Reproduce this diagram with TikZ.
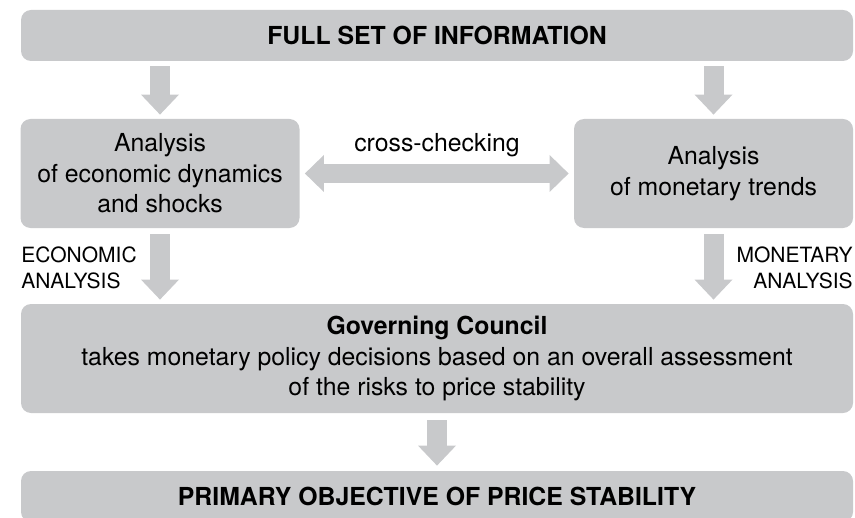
\documentclass[tikz,border=0pt]{standalone}
\usepackage{fontspec}
\setmainfont{TeX Gyre Heros}
\usetikzlibrary{arrows.meta}
\definecolor{boxgray}{RGB}{200,201,203}

\tikzset{
  box/.style={fill=boxgray, rounded corners=5pt, inner sep=0pt, align=center,
              font=\fontsize{12.4}{15.3}\selectfont},
  widebox/.style={box, minimum width=416pt},
  halfbox/.style={box, minimum width=139.5pt, minimum height=54.5pt},
  fat/.style={line width=10pt, draw=boxgray,
              -{Triangle[width=19pt,length=10pt,line width=0pt]}},
  fatboth/.style={line width=9.5pt, draw=boxgray,
              {Triangle[width=18.5pt,length=9.5pt,line width=0pt]}-{Triangle[width=18.5pt,length=9.5pt,line width=0pt]}},
  tag/.style={inner sep=0pt, font=\fontsize{10.5}{13}\selectfont}
}

\begin{document}
\begin{tikzpicture}[x=0.5pt, y=-0.5pt]
\useasboundingbox (0,0) rectangle (855,518);

\node (info)[widebox, minimum height=25.5pt] at (437,35.5) {\textbf{FULL SET OF INFORMATION}};
\node (eco)[halfbox] at (160,173.5) {Analysis\\of economic dynamics\\and shocks};
\node (mon)[halfbox] at (713.5,173.5) {Analysis\\of monetary trends};
\node (gc)[widebox, minimum height=54.5pt] at (437,358.5)
  {\textbf{Governing Council}\\takes monetary policy decisions based on an overall assessment\\of the risks to price stability};
\node (obj)[widebox, minimum height=25.5pt] at (437,496.5) {\textbf{PRIMARY OBJECTIVE OF PRICE STABILITY}};

\node (cross)[tag, font=\fontsize{12.4}{15}\selectfont] at (437,145) {cross-checking};
\node (ecotag)[tag, align=left, anchor=west] at (21,267.5) {ECONOMIC\\ANALYSIS};
\node (montag)[tag, align=right, anchor=east] at (853,267.5) {MONETARY\\ANALYSIS};

% arrows
\draw[fat, shorten <=2.5pt, shorten >=2pt] (info.south -| eco.north) -- (eco.north);
\draw[fat, shorten <=2.5pt, shorten >=2pt] (info.south -| mon.north) -- (mon.north);
\draw[fatboth, shorten <=2.5pt, shorten >=2.5pt] (eco.east) -- (mon.west);
\draw[fat, shorten <=3pt, shorten >=2pt] (eco.south) -- (eco.south |- gc.north);
\draw[fat, shorten <=3pt, shorten >=2pt] (mon.south) -- (mon.south |- gc.north);
\draw[fat, shorten <=3.5pt, shorten >=2.5pt] (gc.south) -- (obj.north);
\end{tikzpicture}
\end{document}
